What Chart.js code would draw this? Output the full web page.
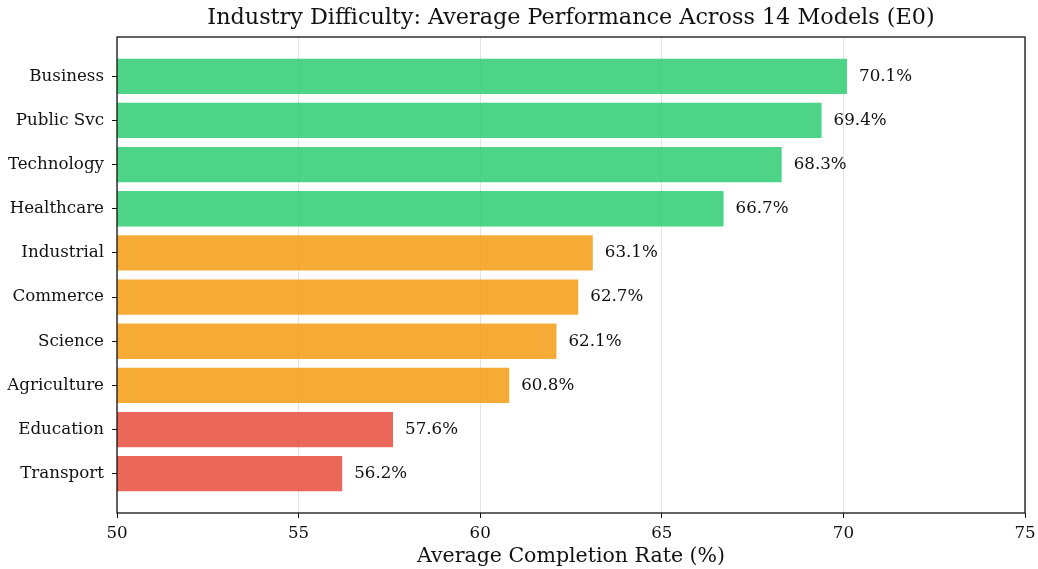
<!DOCTYPE html>
<html>
<head>
<meta charset="utf-8">
<script src="https://cdn.jsdelivr.net/npm/chart.js@4/dist/chart.umd.min.js"></script>
<style>
  html, body { margin: 0; padding: 0; background: #fff; }
  #wrap { width: 1038px; height: 569px; }
</style>
</head>
<body>
<div id="wrap"><canvas id="industryChart" width="1038" height="569"></canvas></div>
<script>
const industries = ['Business', 'Public Svc', 'Technology', 'Healthcare', 'Industrial',
    'Commerce', 'Science', 'Agriculture', 'Education', 'Transport'];
const completionRates = [70.1, 69.4, 68.3, 66.7, 63.1, 62.7, 62.1, 60.8, 57.6, 56.2];
const tiers = ['high', 'high', 'high', 'high', 'mid', 'mid', 'mid', 'mid', 'low', 'low'];
const xTicks = [50, 55, 60, 65, 70, 75];
const chartTitle = 'Industry Difficulty: Average Performance Across 14 Models (E0)';

const tierColors = {
    high: 'rgba(46, 204, 113, 0.85)',  // 초록
    mid: 'rgba(243, 156, 18, 0.85)',   // 주황
    low: 'rgba(231, 76, 60, 0.85)',    // 빨강
};

const serif = '"DejaVu Serif", serif';

// 제목 + 테두리 + 값 라벨
const frameAndLabels = {
    id: 'frameAndLabels',
    afterDatasetsDraw(chart) {
        const {ctx, chartArea: a} = chart;
        ctx.save();
        ctx.font = `16.7px ${serif}`;
        ctx.fillStyle = '#111';
        ctx.textAlign = 'left';
        ctx.textBaseline = 'middle';
        chart.getDatasetMeta(0).data.forEach((bar, i) => {
            ctx.fillText(`${completionRates[i].toFixed(1)}%`, bar.x + 12, bar.y);
        });
        ctx.strokeStyle = '#111';
        ctx.lineWidth = 1.3;
        ctx.strokeRect(a.left, a.top, a.right - a.left, a.bottom - a.top);

        ctx.font = `22.3px ${serif}`;
        ctx.textAlign = 'center';
        ctx.fillText(chartTitle, (a.left + a.right) / 2, 18);
        ctx.restore();
    },
};

const ctx = document.getElementById('industryChart').getContext('2d');
new Chart(ctx, {
    type: 'bar',
    data: {
        datasets: [{
            data: completionRates.map((v, i) => ({x: v, y: i})),
            backgroundColor: tiers.map((t) => tierColors[t]),
            borderWidth: 0,
            barPercentage: 0.8,
            categoryPercentage: 1,
        }],
    },
    plugins: [frameAndLabels],
    options: {
        indexAxis: 'y',
        responsive: false,
        animation: false,
        layout: {padding: {right: 0, left: 0, top: 37, bottom: 0}},
        plugins: {
            legend: {display: false},
            tooltip: {enabled: false},
            title: {display: false},
        },
        scales: {
            x: {
                type: 'linear',
                min: 50,
                max: 75,
                afterBuildTicks: (s) => { s.ticks = xTicks.map((v) => ({value: v})); },
                afterFit: (s) => { s.height = 56; s.paddingRight = 13; },
                grid: {color: '#e3e3e3', tickColor: '#111', tickLength: 5, lineWidth: 1},
                border: {display: false},
                ticks: {color: '#111', padding: 6, font: {family: serif, size: 16.7}},
                title: {
                    display: true,
                    text: 'Average Completion Rate (%)',
                    color: '#111',
                    font: {family: serif, size: 20.5},
                    padding: {top: 0, bottom: 0},
                },
            },
            y: {
                type: 'linear',
                reverse: true,
                offset: false,
                min: -0.89,
                max: 9.89,
                afterBuildTicks: (s) => { s.ticks = industries.map((_, i) => ({value: i})); },
                afterFit: (s) => { s.width = 117; s.paddingTop = 0; s.paddingBottom = 0; },
                grid: {drawOnChartArea: false, offset: false, tickColor: '#111', tickLength: 5},
                border: {display: false},
                ticks: {
                    color: '#111',
                    padding: 8,
                    font: {family: serif, size: 16.7},
                    callback: (v) => industries[v],
                },
            },
        },
    },
});
</script>
</body>
</html>
